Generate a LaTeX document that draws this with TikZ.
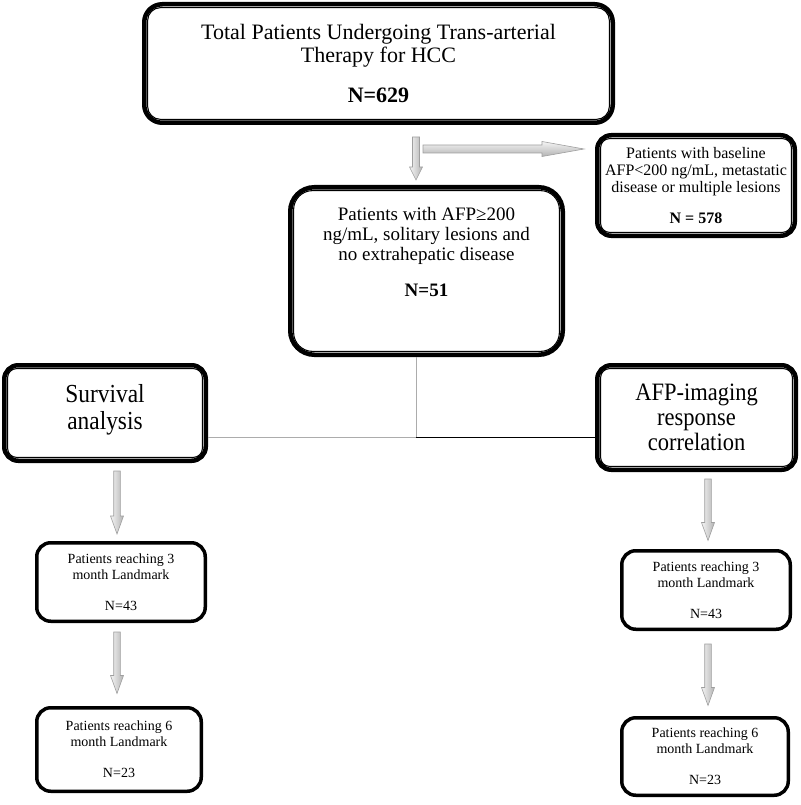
\documentclass[tikz,border=0pt]{standalone}
\usepackage{fontspec}
\setmainfont{Liberation Serif}
\newfontfamily\condfont[FakeStretch=0.9]{Liberation Serif}
\usetikzlibrary{calc}
\tikzset{
  dbox/.style={draw, line width=4.5pt, align=center, inner sep=0pt, fill=white},
  sbox/.style={draw, line width=3.5pt, rounded corners=14pt, align=center, inner sep=0pt},
  innerln/.style={draw, line width=1.1pt},
  vblkst/.style={draw=gray!75, line width=0.6pt, left color=gray!8, right color=gray!60},
  hblkst/.style={draw=gray!75, line width=0.6pt, top color=gray!8, bottom color=gray!60},
  grayln/.style={draw=gray!65, line width=1pt},
  blackln/.style={draw=black, line width=1pt},
}
\newcommand\innerbox[3]{% node, inset, radius
  \draw[innerln, rounded corners=#3] ([xshift=#2,yshift=#2]#1.south west) rectangle ([xshift=-#2,yshift=-#2]#1.north east);}
\newcommand\vblk[5]{% start, end, shaft half, head half, head length
  \draw[vblkst] ($(#1)+(-#3,0)$) -- ($(#1)+(#3,0)$) -- ($(#2)+(#3,-#5)$) -- ($(#2)+(#4,-#5)$) -- (#2) -- ($(#2)+(-#4,-#5)$) -- ($(#2)+(-#3,-#5)$) -- cycle;}
\newcommand\hblk[5]{%
  \draw[hblkst] ($(#1)+(0,-#3)$) -- ($(#2)+(-#5,-#3)$) -- ($(#2)+(-#5,-#4)$) -- (#2) -- ($(#2)+(-#5,#4)$) -- ($(#2)+(-#5,#3)$) -- ($(#1)+(0,#3)$) -- cycle;}
\begin{document}
\begin{tikzpicture}[x=1pt,y=-1pt]
\useasboundingbox (0,0) rectangle (800,805);

% boxes
\node[dbox, rounded corners=18pt, minimum width=468.5pt, minimum height=118.5pt,
      font=\fontsize{22}{23}\selectfont] (top) at (378.5,63.5)
  {Total Patients Undergoing Trans-arterial\\Therapy for HCC\\[17pt]\textbf{N=629}};
\innerbox{top}{5.6pt}{13pt}

\node[dbox, rounded corners=14pt, minimum width=197.5pt, minimum height=100.5pt,
      font=\fontsize{16}{17}\selectfont] (excl) at (696,185.5)
  {Patients with baseline\\AFP<200 ng/mL, metastatic\\disease or multiple lesions\\[14pt]\textbf{N = 578}};
\innerbox{excl}{5.6pt}{9pt}

\node[dbox, rounded corners=24pt, minimum width=272.5pt, minimum height=167.5pt,
      font=\fontsize{19}{20}\selectfont] (mid) at (426.5,271)
  {Patients with AFP≥200\\ng/mL, solitary lesions and\\no extrahepatic disease\\[16pt]\textbf{N=51}\\[19pt]\mbox{}};
\innerbox{mid}{5.6pt}{19pt}

\node[dbox, rounded corners=14pt, minimum width=201.5pt, minimum height=95.5pt,
      font=\condfont\fontsize{26}{27}\selectfont] (surv) at (105,413)
  {Survival\\analysis\\[-14pt]\mbox{}};
\innerbox{surv}{5.6pt}{9pt}

\node[dbox, rounded corners=14pt, minimum width=198.5pt, minimum height=104.5pt,
      font=\condfont\fontsize{25}{25}\selectfont] (afp) at (696.5,417.5)
  {AFP-imaging\\response\\correlation};
\innerbox{afp}{5.6pt}{9pt}

\node[sbox, minimum width=168.5pt, minimum height=78.5pt, font=\fontsize{14}{16}\selectfont]
  (l3) at (121,582) {Patients reaching 3\\month Landmark\\[15pt]N=43};
\node[sbox, minimum width=164.5pt, minimum height=83.5pt, font=\fontsize{14}{16}\selectfont]
  (l6) at (119,749.5) {Patients reaching 6\\month Landmark\\[15pt]N=23};
\node[sbox, minimum width=168.5pt, minimum height=78.5pt, font=\fontsize{14}{16}\selectfont]
  (r3) at (706,590) {Patients reaching 3\\month Landmark\\[15pt]N=43};
\node[sbox, minimum width=166.5pt, minimum height=77.5pt, font=\fontsize{14}{16}\selectfont]
  (r6) at (705,756.5) {Patients reaching 6\\month Landmark\\[15pt]N=23};

% block arrows
\coordinate (a1s) at ([xshift=37.5pt,yshift=-12pt]top.south);
\coordinate (a1e) at ($(a1s |- mid.north)+(0,-5)$);
\vblk{a1s}{a1e}{3.5}{6.5}{13}

\coordinate (a2s) at ([xshift=7pt,yshift=-12pt]a1s);
\coordinate (a2e) at ($(excl.west |- a2s)+(-11,0)$);
\hblk{a2s}{a2e}{4}{7.5}{42}

\coordinate (a3s) at ([xshift=12pt,yshift=-8pt]surv.south);
\coordinate (a3e) at ($(a3s |- l3.north)+(0,-7)$);
\vblk{a3s}{a3e}{3.3}{6.5}{18}

\coordinate (a4s) at ($(a3s |- l3.south)+(0,9)$);
\coordinate (a4e) at ($(a4s |- l6.north)+(0,-12.5)$);
\vblk{a4s}{a4e}{3.3}{6.5}{18}

\coordinate (a5s) at ([xshift=11.5pt,yshift=-7pt]afp.south);
\coordinate (a5e) at ($(a5s |- r3.north)+(0,-8.5)$);
\vblk{a5s}{a5e}{3.3}{6.5}{18}

\coordinate (a6s) at ($(a5s |- r3.south)+(0,13)$);
\coordinate (a6e) at ($(a6s |- r6.north)+(0,-10.5)$);
\vblk{a6s}{a6e}{3.3}{6.5}{18}

% split connector
\coordinate (J) at (416,437);
\draw[grayln] (mid.south -| J) -- (J);
\draw[grayln] (surv.east |- J) -- (J);
\draw[blackln] (J) -- (afp.west |- J);
\end{tikzpicture}
\end{document}
